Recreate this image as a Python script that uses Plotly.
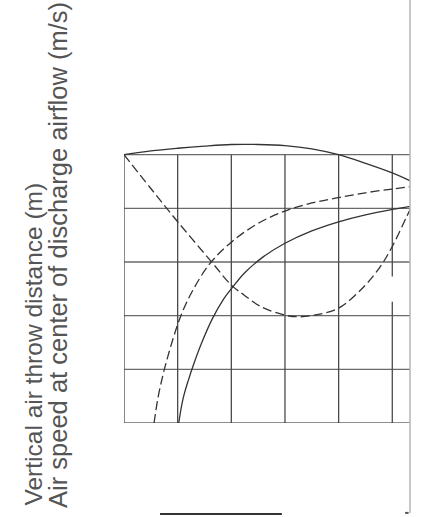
import plotly.graph_objects as go

# grid positions (grid units)
grid_x = [0, 1, 2, 3, 4, 5]
grid_y = [0, 1, 2, 3, 4, 5]

# top solid arc
arc_x = [0, 0.5, 1, 1.5, 2, 2.5, 3, 3.5, 4, 4.5, 5, 5.4]
arc_y = [5.0, 5.07, 5.12, 5.16, 5.19, 5.19, 5.17, 5.11, 5.0, 4.84, 4.66, 4.48]

# lower solid rising curve
solid_x = [1.02, 1.1, 1.2, 1.3, 1.45, 1.65, 1.85, 2.0, 2.25, 2.6, 3.0, 3.5, 4.0, 4.5, 5.0, 5.4]
solid_y = [0.0, 0.45, 0.8, 1.1, 1.5, 1.95, 2.3, 2.5, 2.8, 3.1, 3.35, 3.58, 3.75, 3.88, 3.98, 4.05]

# upper dashed rising curve
dash_x = [0.56, 0.63, 0.72, 0.82, 0.93, 1.06, 1.27, 1.6, 2.0, 2.5, 3.0, 3.5, 4.0, 4.5, 5.0, 5.4]
dash_y = [0.0, 0.45, 0.87, 1.25, 1.62, 2.0, 2.45, 2.97, 3.37, 3.72, 3.95, 4.1, 4.2, 4.29, 4.36, 4.41]

# dashed U-shaped curve
u_x = [0, 0.5, 1, 1.6, 2.0, 2.23, 2.55, 3.0, 3.28, 3.6, 4.0, 4.47, 4.78, 5.0, 5.27, 5.4]
u_y = [5.0, 4.37, 3.75, 3.04, 2.57, 2.39, 2.17, 2.01, 1.98, 2.02, 2.14, 2.54, 2.92, 3.29, 3.85, 4.12]

label_1 = "Vertical air throw distance (m)"
label_2 = "Air speed at center of discharge airflow (m/s)"

fig = go.Figure()

# horizontal grid lines
hx, hy = [], []
for gy in grid_y:
    hx += [0, 5.4, None]
    hy += [gy, gy, None]
fig.add_trace(go.Scatter(x=hx, y=hy, mode='lines',
                         line=dict(color='#6a6a6a', width=1.3), hoverinfo='skip'))

# vertical grid lines (the one at x=5 is broken in the original)
vx, vy = [], []
for gx in grid_x:
    if gx == 5:
        vx += [gx, gx, None, gx, gx, None]
        vy += [0, 2.26, None, 2.73, 5, None]
    else:
        vx += [gx, gx, None]
        vy += [0, 5, None]
fig.add_trace(go.Scatter(x=vx, y=vy, mode='lines',
                         line=dict(color='#4a4a4a', width=1.3), hoverinfo='skip'))

curve_line = dict(color='#333333', width=1.3, shape='spline')
fig.add_trace(go.Scatter(x=arc_x, y=arc_y, mode='lines', line=curve_line))
fig.add_trace(go.Scatter(x=solid_x, y=solid_y, mode='lines', line=curve_line))
fig.add_trace(go.Scatter(x=dash_x, y=dash_y, mode='lines',
                         line=dict(curve_line, dash='9px,4px')))
fig.add_trace(go.Scatter(x=u_x, y=u_y, mode='lines',
                         line=dict(curve_line, dash='9px,4px')))

# crop border on the right and stray marks at the bottom
fig.add_shape(type='line', xref='paper', yref='paper', x0=1, x1=1, y0=-0.31, y1=1.46,
              line=dict(color='#b5b5b5', width=1.5))
fig.add_shape(type='line', xref='paper', yref='paper', x0=0.126, x1=0.552, y0=-0.314, y1=-0.314,
              line=dict(color='#333333', width=2))
fig.add_shape(type='line', xref='paper', yref='paper', x0=0.983, x1=0.995, y0=-0.31, y1=-0.31,
              line=dict(color='#555555', width=2))

font_1 = dict(family='Liberation Sans, Arial, sans-serif', size=24.5, color='#555555')
font_2 = dict(family='Liberation Sans, Arial, sans-serif', size=25.5, color='#555555')
fig.add_annotation(text=label_1, xref='paper', yref='paper', x=-0.318, y=-0.293,
                   xanchor='center', yanchor='bottom', textangle=-90,
                   showarrow=False, font=font_1)
fig.add_annotation(text=label_2, xref='paper', yref='paper', x=-0.231, y=-0.300,
                   xanchor='center', yanchor='bottom', textangle=-90,
                   showarrow=False, font=font_2)

fig.update_xaxes(range=[0, 5.33], visible=False)
fig.update_yaxes(range=[0, 5.404], visible=False)

fig.update_layout(
    width=422, height=517,
    margin=dict(l=124, r=12, t=133, b=94),
    paper_bgcolor='white', plot_bgcolor='white',
    showlegend=False,
)

fig.write_html("out.html", config={'displayModeBar': False},
               post_script="document.body.style.margin='0';")
